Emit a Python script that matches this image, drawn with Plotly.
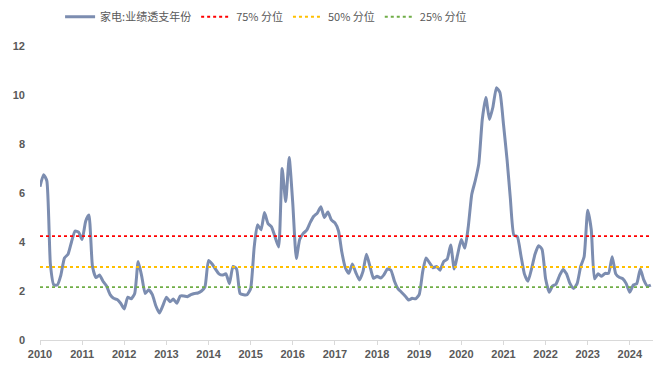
import pandas as pd
import plotly.graph_objects as go

# Monthly series, starting Jan 2010
start_month = "2010-01-01"
values = [
    6.26, 6.75, 6.5, 3.1, 2.25, 2.25, 2.65, 3.35, 3.5, 4.0, 4.45, 4.4,
    4.1, 4.85, 5.1, 3.0, 2.55, 2.65, 2.4, 2.2, 1.85, 1.7, 1.65, 1.5,
    1.27, 1.75, 1.68, 1.9, 3.2, 2.6, 1.9, 2.05, 1.85, 1.4, 1.1, 1.4,
    1.75, 1.56, 1.67, 1.5, 1.8, 1.8, 1.77, 1.85, 1.9, 1.92, 2.0, 2.17,
    3.25, 3.1, 2.9, 2.7, 2.65, 2.7, 2.3, 3.0, 2.9, 1.9, 1.85, 1.85,
    2.1, 3.8, 4.7, 4.5, 5.2, 4.75, 4.62, 4.2, 3.8, 7.0, 5.65, 7.45,
    5.6, 3.33, 4.1, 4.35, 4.48, 4.8, 5.05, 5.18, 5.44, 5.0, 5.22, 4.9,
    4.78, 4.45, 3.6, 2.95, 2.72, 3.1, 2.75, 2.45, 2.8, 3.5, 3.0, 2.52,
    2.6, 2.53, 2.66, 2.9, 2.85, 2.4, 2.1, 1.95, 1.8, 1.63, 1.7, 1.68,
    1.85, 2.8, 3.35, 3.15, 2.95, 3.0, 2.85, 3.2, 3.3, 3.88, 2.9, 3.5,
    4.1, 3.75, 4.6, 5.95, 6.5, 7.2, 9.0, 9.9, 9.0, 9.5, 10.3, 10.1,
    8.8, 7.35, 5.8, 4.28, 4.22, 3.45, 2.7, 2.4, 2.9, 3.5, 3.85, 3.7,
    2.5, 1.95, 2.2, 2.28, 2.62, 2.88, 2.7, 2.3, 2.1, 2.3, 3.0, 3.4,
    5.3, 4.5, 2.5, 2.7, 2.6, 2.72, 2.72, 3.4, 2.7, 2.56, 2.5, 2.3,
    1.95, 2.25, 2.3, 2.9, 2.45, 2.2, 2.24,
]
dates = pd.date_range(start_month, periods=len(values), freq="MS")

series_name = "家电:业绩透支年份"
pct_names = ["75% 分位", "50% 分位", "25% 分位"]
pct_values = [4.24, 2.98, 2.16]
pct_colors = ["#FF0000", "#FFC000", "#70AD47"]

y_ticks = [0, 2, 4, 6, 8, 10, 12]

fig = go.Figure()
fig.add_trace(go.Scatter(
    x=dates, y=values, name=series_name, mode="lines",
    line=dict(color="#7C8DB0", width=3, shape="spline", smoothing=0.5),
))
for nm, v, c in zip(pct_names, pct_values, pct_colors):
    fig.add_trace(go.Scatter(
        x=[dates[0], dates[-1]], y=[v, v], name=nm, mode="lines",
        line=dict(color=c, width=1.8, dash="dot"),
    ))

fig.update_layout(
    width=657, height=372,
    margin=dict(l=40, r=4, t=46, b=32, autoexpand=False),
    paper_bgcolor="white", plot_bgcolor="white",
    font=dict(family="Liberation Sans, Noto Sans CJK SC", size=11, color="#595959"),
    showlegend=True,
    legend=dict(
        orientation="h", xref="container", yref="container",
        x=0.405, xanchor="center", y=0.955, yanchor="middle",
        font=dict(family="Noto Sans CJK SC", size=11, color="#595959"),
        itemwidth=30, tracegroupgap=0,
    ),
    xaxis=dict(
        type="date", range=[dates[0], pd.Timestamp("2024-07-20")],
        dtick="M12", tick0=dates[0], tickformat="%Y",
        showgrid=False, zeroline=False, automargin=False,
        showline=True, linecolor="#D9D9D9", linewidth=1,
        ticks="outside", ticklen=4, tickcolor="#D9D9D9",
        tickfont=dict(family="Liberation Sans", size=11, color="#595959", weight="bold"),
    ),
    yaxis=dict(
        range=[0, 12], tickvals=y_ticks, showgrid=False, zeroline=False,
        showline=False, ticks="", automargin=False, ticklabelstandoff=14,
        tickfont=dict(family="Liberation Sans", size=11, color="#595959", weight="bold"),
    ),
)

fig.write_html("out.html", config={"displayModeBar": False},
               post_script="document.body.style.margin='0';")
